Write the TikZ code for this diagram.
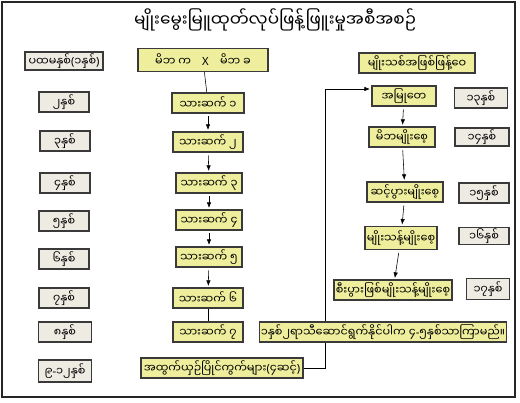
\documentclass[tikz,border=0pt]{standalone}
\usepackage{fontspec}
\setmainfont{Noto Sans}
\newfontfamily\mmfont[Script=Myanmar]{Noto Sans Myanmar UI}
\newcommand{\ltn}[1]{{\rmfamily#1}}
\usetikzlibrary{arrows.meta,positioning,backgrounds}
\definecolor{seedyellow}{HTML}{EEEE9C}
\definecolor{yeargray}{HTML}{EEEBE3}
\definecolor{edgegray}{HTML}{3A3A3A}
\tikzset{
  box/.style={draw=edgegray, line width=0.9pt, align=center, inner sep=1pt,
    minimum height=0.5cm, font=\mmfont\fontsize{8}{9}\selectfont},
  seedbox/.style={box, fill=seedyellow},
  yearbox/.style={box, fill=yeargray, minimum width=1.25cm},
  arr/.style={-{Latex[length=1.4mm,width=1.1mm]}, thin, shorten <=2pt, shorten >=1pt},
  link/.style={thin},
  frame/.style={draw=black!85, line width=1.4pt}
}

\begin{document}
\begin{tikzpicture}[x=0.025cm, y=-0.025cm]
  \useasboundingbox (0,0) rectangle (520,402);
  \draw[frame] (2,2) rectangle (515,397);

  \node[font=\mmfont\fontsize{12}{14}\selectfont] (title) at (275,20) {မျိုးမွေးမြူထုတ်လုပ်ဖြန့်ဖြူးမှုအစီအစဉ်};

  % left column: years
  \node[yearbox, minimum width=1.95cm, minimum height=0.45cm] (y1) at (64,61) {ပထမနှစ်\ltn{(}၁နှစ်\ltn{)}};
  \node[yearbox] (y2) at (64,102) {၂နှစ်};
  \node[yearbox] (y3) at (65,141) {၃နှစ်};
  \node[yearbox] (y4) at (65,183) {၄နှစ်};
  \node[yearbox] (y5) at (64,221) {၅နှစ်};
  \node[yearbox] (y6) at (64,259) {၆နှစ်};
  \node[yearbox] (y7) at (64,298) {၇နှစ်};
  \node[yearbox, minimum width=1.33cm] (y8) at (65,332) {၈နှစ်};
  \node[yearbox, minimum width=1.33cm, minimum height=0.55cm] (y9) at (65,371) {၉\ltn{-}၁၂နှစ်};

  % middle column: crosses
  \node[seedbox, minimum width=3.25cm, minimum height=0.58cm] (parents) at (203,60) {မိဘ က\quad\ltn{X}\quad မိဘ ခ};
  \node[seedbox, minimum width=1.8cm] (g1) at (208,103) {သားဆက် ၁};
  \node[seedbox, minimum width=1.75cm] (g2) at (208,142) {သားဆက် ၂};
  \node[seedbox, minimum width=1.65cm] (g3) at (209,183) {သားဆက် ၃};
  \node[seedbox, minimum width=1.65cm] (g4) at (209,220) {သားဆက် ၄};
  \node[seedbox, minimum width=1.65cm] (g5) at (209,257) {သားဆက် ၅};
  \node[seedbox, minimum width=1.75cm] (g6) at (208,298) {သားဆက် ၆};
  \node[seedbox, minimum width=1.75cm] (g7) at (208,332) {သားဆက် ၇};
  \node[seedbox, minimum width=4.05cm] (trials) at (222,368) {အထွက်ယှဉ်ပြိုင်ကွက်များ\ltn{(}၄ဆင့်\ltn{)}};

  % right column: seed classes
  \node[seedbox, minimum width=2.9cm] (dist) at (417,63) {မျိုးသစ်အဖြစ်ဖြန့်ဝေ};
  \node[seedbox, minimum width=1.6cm] (s1) at (404,96) {အမြုတေ};
  \node[seedbox, minimum width=1.65cm] (s2) at (402,137) {မိဘမျိုးစေ့};
  \node[seedbox, minimum width=1.9cm] (s3) at (405,192) {ဆင့်ပွားမျိုးစေ့};
  \node[seedbox, minimum width=1.8cm, minimum height=0.57cm] (s4) at (401,238) {မျိုးသန့်မျိုးစေ့};
  \node[seedbox, minimum width=2.95cm] (s5) at (393,290) {စီးပွားဖြစ်မျိုးသန့်မျိုးစေ့};
  \node[seedbox, minimum width=5.9cm] (note) at (383,332) {၁နှစ်၂ရာသီဆောင်ရွက်နိုင်ပါက ၄\ltn{-}၅နှစ်သာကြာမည်။};

  \node[yearbox, minimum width=1.33cm] (r13) at (481,98) {၁၃နှစ်};
  \node[yearbox, minimum width=1.35cm, minimum height=0.45cm] (r14) at (482,137) {၁၄နှစ်};
  \node[yearbox] (r15) at (484,193) {၁၅နှစ်};
  \node[yearbox, minimum height=0.43cm] (r16) at (484,236) {၁၆နှစ်};
  \node[yearbox, minimum width=1.08cm, minimum height=0.53cm] (r17) at (488,289) {၁၇နှစ်};

  \begin{scope}[on background layer]
    \draw[link] (parents) -- (g1);
    \draw[arr] (g1) -- (g2);
    \draw[arr] (g2) -- (g3);
    \draw[arr] (g3) -- (g4);
    \draw[arr] (g4) -- (g5);
    \draw[arr] (g5) -- (g6);
    \draw[link] (g6) -- (g7);
    \coordinate (bend) at (325,89);
    \draw[arr, shorten <=0pt] (trials.east) -| (bend) -- (bend -| s1.west);
    \draw[arr] (s1) -- (s2);
    \draw[arr] (s2) -- (s3);
    \draw[arr] (s3) -- (s4);
    \draw[arr] (s4) -- (s5);
  \end{scope}
\end{tikzpicture}
\end{document}
